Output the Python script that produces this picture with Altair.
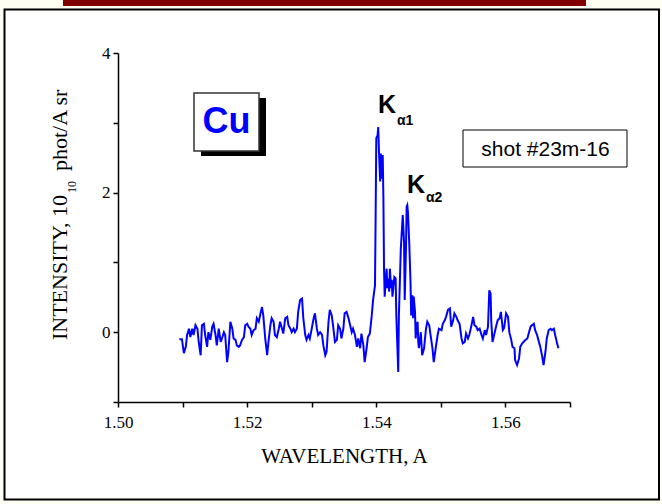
import altair as alt
import pandas as pd

# ---- data (wavelength in A, intensity in 1e10 phot/A sr)
wl_left = [1.5095, 1.5099, 1.5102, 1.5105, 1.5107, 1.5110, 1.5112, 1.5115, 1.5117, 1.5120,
           1.5123, 1.5125, 1.5128, 1.5130, 1.5133, 1.5135, 1.5138, 1.5140, 1.5143, 1.5146,
           1.5148, 1.5151, 1.5153, 1.5156, 1.5159, 1.5161, 1.5164, 1.5166, 1.5169, 1.5171,
           1.5174, 1.5177, 1.5179, 1.5182, 1.5184, 1.5187, 1.5189, 1.5192, 1.5195, 1.5197,
           1.5200, 1.5202, 1.5205, 1.5207, 1.5210, 1.5213, 1.5215, 1.5218, 1.5220, 1.5223,
           1.5225, 1.5228, 1.5231]
int_left = [-0.10, -0.10, -0.30, -0.21, -0.04, 0.05, -0.07, 0.05, -0.04, 0.10,
            0.05, -0.14, -0.33, 0.10, 0.12, -0.04, -0.21, 0.00, -0.11, 0.08,
            0.12, -0.04, -0.19, 0.05, -0.14, -0.09, 0.00, -0.04, -0.43, -0.28,
            0.15, 0.05, -0.09, -0.11, -0.19, -0.21, -0.19, -0.11, -0.07, 0.10,
            0.12, 0.08, 0.05, -0.04, 0.03, 0.05, 0.20, 0.15, 0.24, 0.36,
            0.24, -0.09, -0.33]

wl_mid = [1.5233, 1.5236, 1.5238, 1.5241, 1.5243, 1.5246, 1.5249, 1.5251, 1.5254, 1.5256,
          1.5259, 1.5262, 1.5264, 1.5267, 1.5269, 1.5272, 1.5274, 1.5277, 1.5279, 1.5282,
          1.5285, 1.5287, 1.5290, 1.5292, 1.5295, 1.5297, 1.5300, 1.5303, 1.5305, 1.5308,
          1.5310, 1.5313, 1.5316, 1.5318, 1.5321, 1.5323, 1.5326, 1.5328, 1.5331, 1.5333,
          1.5336, 1.5339, 1.5341, 1.5344, 1.5346, 1.5349, 1.5351, 1.5354, 1.5357, 1.5359,
          1.5362, 1.5364, 1.5367, 1.5370]
int_mid = [-0.14, 0.10, 0.20, 0.15, -0.04, -0.07, 0.05, 0.15, 0.05, -0.02,
           0.20, 0.22, 0.10, 0.05, 0.00, 0.05, 0.00, 0.05, 0.29, 0.46,
           0.48, 0.20, -0.04, -0.11, -0.04, -0.09, 0.05, 0.20, 0.27, 0.05,
           -0.04, 0.00, -0.04, -0.19, -0.33, -0.28, 0.15, 0.32, 0.24, 0.10,
           -0.14, -0.11, 0.10, 0.05, -0.09, 0.05, 0.27, 0.29, 0.20, 0.12,
           0.00, 0.05, -0.04, -0.21]

wl_peak = [1.5372, 1.5375, 1.5377, 1.5380, 1.5382, 1.5385, 1.5387, 1.5390, 1.5393, 1.5395,
           1.5398, 1.5399, 1.5400, 1.5402, 1.5403, 1.5404, 1.5406, 1.5407, 1.5408, 1.5410,
           1.5411, 1.5412, 1.5413, 1.5416, 1.5417, 1.5418, 1.5420, 1.5421, 1.5423, 1.5424,
           1.5425, 1.5428, 1.5430, 1.5431, 1.5434, 1.5435, 1.5438, 1.5441, 1.5443, 1.5444,
           1.5446, 1.5447, 1.5448, 1.5449, 1.5451, 1.5453, 1.5454, 1.5456, 1.5457, 1.5458,
           1.5460, 1.5461, 1.5462, 1.5464, 1.5465, 1.5466, 1.5469, 1.5471, 1.5474, 1.5477,
           1.5479, 1.5482, 1.5484, 1.5487, 1.5489, 1.5492, 1.5495, 1.5497]
int_peak = [-0.09, -0.23, -0.02, -0.19, -0.43, -0.23, -0.07, -0.02, 0.24, 0.46,
            0.67, 1.68, 2.78, 2.82, 2.94, 2.63, 2.16, 2.56, 2.20, 2.54,
            1.92, 0.91, 0.51, 0.91, 0.63, 0.77, 0.58, 0.91, 0.63, 0.75,
            0.51, 0.79, 0.77, 0.24, -0.57, 0.24, 1.20, 1.68, 1.29, 0.46,
            1.20, 1.80, 1.82, 1.72, 1.29, 0.72, 0.24, 0.53, 0.20, 0.51,
            0.29, -0.09, 0.05, 0.15, -0.14, -0.23, 0.00, -0.33, -0.23, 0.05,
            0.15, 0.10, -0.04, -0.23, -0.43, -0.23, -0.04, 0.05]

wl_right1 = [1.5501, 1.5503, 1.5506, 1.5508, 1.5511, 1.5514, 1.5516, 1.5519, 1.5521, 1.5524,
             1.5526, 1.5529, 1.5532, 1.5534, 1.5537, 1.5539, 1.5542, 1.5544, 1.5547, 1.5550,
             1.5552, 1.5555, 1.5557, 1.5560, 1.5563, 1.5565, 1.5568, 1.5570, 1.5573, 1.5575,
             1.5577, 1.5578, 1.5580, 1.5583, 1.5586, 1.5588]
int_right1 = [0.03, 0.12, 0.17, 0.22, 0.32, 0.34, 0.08, 0.17, 0.27, 0.22,
              0.17, 0.12, -0.09, -0.16, -0.14, -0.02, -0.09, -0.04, 0.08, 0.22,
              0.10, 0.08, 0.03, 0.05, -0.04, -0.09, 0.03, -0.04, 0.08, 0.60,
              0.55, 0.17, -0.14, -0.02, 0.10, 0.17]

wl_right2 = [1.5591, 1.5593, 1.5596, 1.5598, 1.5601, 1.5604, 1.5606, 1.5609, 1.5611, 1.5614,
             1.5615, 1.5618, 1.5621, 1.5623, 1.5626, 1.5628, 1.5631, 1.5634, 1.5636, 1.5639,
             1.5641, 1.5644, 1.5646, 1.5649, 1.5651, 1.5654, 1.5657, 1.5659, 1.5662, 1.5664,
             1.5667, 1.5670, 1.5672, 1.5675, 1.5677, 1.5680, 1.5682]
int_right2 = [0.20, 0.29, 0.03, 0.06, 0.27, 0.22, 0.00, -0.11, -0.21, -0.23,
              -0.40, -0.47, -0.38, -0.21, -0.16, -0.14, -0.11, -0.09, -0.02, 0.08,
              0.10, 0.12, 0.03, -0.04, -0.11, -0.21, -0.35, -0.47, -0.28, -0.09,
              0.03, 0.05, 0.03, 0.05, -0.04, -0.16, -0.23]

x_ticks = [1.50, 1.51, 1.52, 1.53, 1.54, 1.55, 1.56, 1.57]
y_ticks = [-1, 0, 1, 2, 3, 4]

wl = wl_left + wl_mid + wl_peak + wl_right1 + wl_right2
inten = int_left + int_mid + int_peak + int_right1 + int_right2
assert len(wl) == len(inten)
df = pd.DataFrame({"wavelength": wl, "intensity": inten, "idx": range(len(wl))})

W, H = 452, 349
SERIF = "Liberation Serif"
SANS = "Liberation Sans"
one = pd.DataFrame({"a": [0]})

x_axis = alt.Axis(values=x_ticks, format=".2f",
                  labelExpr="round(datum.value*100) % 2 == 0 ? datum.label : ''",
                  grid=False, domainColor="black", domainWidth=1.5, tickColor="black",
                  tickWidth=1.5, tickSize=5, labelFont=SERIF, labelFontSize=17,
                  labelColor="black", labelBaseline="alphabetic", labelPadding=20,
                  labelFlush=False, labelOverlap=False,
                  titleFont=SERIF, titleFontSize=21, titleFontWeight="normal",
                  titleColor="black", titleY=60, titleBaseline="alphabetic", zindex=1)
y_axis = alt.Axis(values=y_ticks, format="d",
                  labelExpr="datum.value % 2 == 0 ? datum.label : ''",
                  grid=False, domainColor="black", domainWidth=1.5, tickColor="black",
                  tickWidth=1.5, tickSize=5, labelFont=SERIF, labelFontSize=17,
                  labelColor="black", labelPadding=3, labelFlush=False, labelOverlap=False,
                  zindex=1)

frame = alt.Chart(one).mark_rect(fill="white", stroke="black", strokeWidth=2).encode(
    x=alt.value(-113.5), x2=alt.value(541), y=alt.value(-43.5), y2=alt.value(446.5))
topbar = alt.Chart(one).mark_rect(fill="#800000").encode(
    x=alt.value(-55), x2=alt.value(468), y=alt.value(-53), y2=alt.value(-47))

line = alt.Chart(df).mark_line(color="#0000ff", strokeWidth=2).encode(
    x=alt.X("wavelength:Q", scale=alt.Scale(domain=[1.50, 1.57], nice=False, zero=False),
            axis=x_axis, title="WAVELENGTH, A"),
    y=alt.Y("intensity:Q", scale=alt.Scale(domain=[-1, 4], nice=False, zero=False),
            axis=y_axis, title=None),
    order="idx:Q",
)

# y-axis title in pieces (main text, power, units)
yt_main = alt.Chart(one).mark_text(text="INTENSITY, 10", font=SERIF, fontSize=22, angle=270,
                                   color="black", align="right", baseline="alphabetic").encode(
    x=alt.value(-51.3), y=alt.value(142))
yt_pow = alt.Chart(one).mark_text(text="10", font=SERIF, fontSize=12, angle=270,
                                  color="black", align="center", baseline="alphabetic").encode(
    x=alt.value(-42), y=alt.value(134))
yt_unit = alt.Chart(one).mark_text(text="phot/A sr", font=SERIF, fontSize=22, angle=270,
                                   color="black", align="left", baseline="alphabetic").encode(
    x=alt.value(-51.3), y=alt.value(118))

cu_shadow = alt.Chart(one).mark_rect(fill="black").encode(
    x=alt.value(83), x2=alt.value(148), y=alt.value(45), y2=alt.value(103))
cu_box = alt.Chart(one).mark_rect(fill="white", stroke="#333333", strokeWidth=1.5).encode(
    x=alt.value(76), x2=alt.value(141), y=alt.value(40), y2=alt.value(98))
cu_text = alt.Chart(one).mark_text(text="Cu", font=SANS, fontSize=36, fontWeight="bold",
                                   color="#0000ff", align="center", baseline="alphabetic").encode(
    x=alt.value(108.5), y=alt.value(80))

k1 = alt.Chart(one).mark_text(text="K", font=SANS, fontSize=25, fontWeight="bold",
                              color="black", align="left", baseline="alphabetic").encode(
    x=alt.value(260), y=alt.value(60))
a1 = alt.Chart(one).mark_text(text="α1", font=SANS, fontSize=14, fontWeight="bold",
                              color="black", align="left", baseline="alphabetic").encode(
    x=alt.value(279), y=alt.value(72))
k2 = alt.Chart(one).mark_text(text="K", font=SANS, fontSize=25, fontWeight="bold",
                              color="black", align="left", baseline="alphabetic").encode(
    x=alt.value(289), y=alt.value(140))
a2 = alt.Chart(one).mark_text(text="α2", font=SANS, fontSize=14, fontWeight="bold",
                              color="black", align="left", baseline="alphabetic").encode(
    x=alt.value(308), y=alt.value(148.5))

shot_box = alt.Chart(one).mark_rect(fill="white", stroke="black", strokeWidth=1).encode(
    x=alt.value(345), x2=alt.value(509), y=alt.value(77), y2=alt.value(114))
shot_text = alt.Chart(one).mark_text(text="shot #23m-16", font=SANS, fontSize=21,
                                     color="black", align="center", baseline="alphabetic").encode(
    x=alt.value(427.5), y=alt.value(103))

chart = alt.layer(
    frame, topbar, line, yt_main, yt_pow, yt_unit, cu_shadow, cu_box, cu_text,
    k1, a1, k2, a2, shot_box, shot_text
).properties(
    width=W, height=H,
    padding={"left": 118, "top": 53, "right": 92, "bottom": 102},
    autosize=alt.AutoSizeParams(type="none"),
    background="#fefef2",
).configure_view(stroke=None)

chart.save("out.html", embed_options={"renderer": "svg", "actions": False})
